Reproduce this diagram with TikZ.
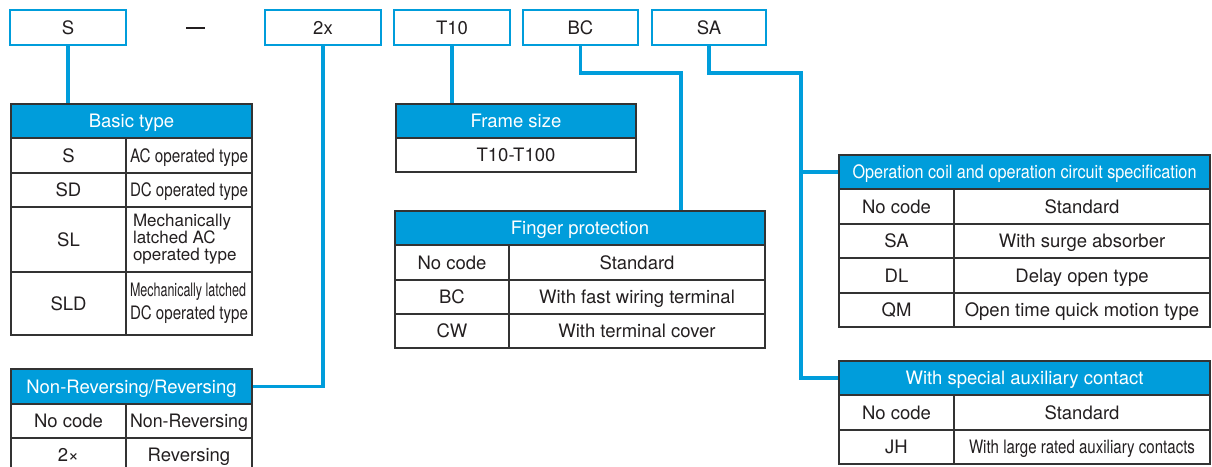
\documentclass[tikz,border=0pt]{standalone}
\usepackage{fontspec}
\setmainfont{TeX Gyre Heros}
\usepackage{graphicx}
\definecolor{hblue}{RGB}{0,157,219}
\definecolor{tline}{RGB}{51,51,51}
\definecolor{ink}{RGB}{35,31,32}
\newcommand\cnd[2]{\resizebox{#1pt}{\height}{#2}}
\newcommand\tcell[7]{\node[#2, minimum width={(#5)-(#3)}, minimum height={(#6)-(#4)}] (#1) at ({((#3)+(#5))/2},{((#4)+(#6))/2}) {#7};}
\tikzset{
  base/.style={font=\fontsize{18.5}{20}\selectfont, text=ink, inner sep=0pt, rectangle, text height=13.3pt, text depth=0pt},
  free/.style={text height=, text depth=},
  topbox/.style={base, draw=hblue, line width=2.5pt, fill=white},
  cell/.style={base, draw=tline, line width=1.1pt},
  hcell/.style={base, draw=tline, line width=1.1pt, fill=hblue, text=white},
  conn/.style={draw=hblue, line width=3.2pt, line join=miter}
}
\begin{document}
\begin{tikzpicture}[x=1pt,y=-1pt]
\useasboundingbox (0,0) rectangle (1212,466);
% top code boxes
\tcell{tS}{topbox}{10}{10}{126}{45}{S}
\node[base, text height=, text depth=] (dash) at (195.5,28) {\rule{19pt}{2pt}};
\tcell{t2x}{topbox}{265}{10}{381}{45}{2x}
\tcell{tT}{topbox}{394}{10}{510}{45}{T10}
\tcell{tBC}{topbox}{523}{10}{638}{45}{BC}
\tcell{tSA}{topbox}{652}{10}{766}{45}{SA}
% Basic type
\tcell{bh}{hcell}{11}{104}{252}{138}{Basic type}
\tcell{b1l}{cell}{11}{138}{126}{173}{S}
\tcell{b1r}{cell}{126}{138}{252}{173}{\makebox[118pt][l]{\cnd{118}{AC operated type}}}
\tcell{b2l}{cell}{11}{173}{126}{207}{SD}
\tcell{b2r}{cell}{126}{173}{252}{207}{\makebox[118pt][l]{\cnd{118}{DC operated type}}}
\tcell{b3l}{cell}{11}{207}{126}{272}{SL}
\tcell{b3r}{cell, free}{126}{207}{252}{272}{\parbox{112pt}{\fontsize{17}{17}\selectfont Mechanically\\latched AC\\operated type}}
\tcell{b4l}{cell}{11}{272}{126}{335}{SLD}
\tcell{b4r}{cell, free}{126}{272}{252}{335}{\parbox{118pt}{\fontsize{18.5}{23}\selectfont\cnd{116}{Mechanically latched}\\\cnd{118}{DC operated type}}}
% Non-Reversing / Reversing
\tcell{nh}{hcell}{11}{369}{252}{404}{Non-Reversing/Reversing}
\tcell{n1l}{cell}{11}{404}{126}{438}{No code}
\tcell{n1r}{cell}{126}{404}{252}{438}{\cnd{118}{Non-Reversing}}
\tcell{n2l}{cell}{11}{438}{126}{472}{2×}
\tcell{n2r}{cell}{126}{438}{252}{472}{Reversing}
% Frame size
\tcell{fh}{hcell}{396}{104}{636}{138}{Frame size}
\tcell{f1}{cell}{396}{138}{636}{172}{T10-T100}
% Finger protection
\tcell{ph}{hcell}{395}{211}{765}{245}{Finger protection}
\tcell{p1l}{cell}{395}{245}{509}{280}{No code}
\tcell{p1r}{cell}{509}{245}{765}{280}{Standard}
\tcell{p2l}{cell}{395}{280}{509}{314}{BC}
\tcell{p2r}{cell}{509}{280}{765}{314}{With fast wiring terminal}
\tcell{p3l}{cell}{395}{314}{509}{348}{CW}
\tcell{p3r}{cell}{509}{314}{765}{348}{With terminal cover}
% Operation coil
\tcell{oh}{hcell}{839}{155}{1210}{189}{\cnd{344}{Operation coil and operation circuit specification}}
\tcell{o1l}{cell}{839}{189}{954}{224}{No code}
\tcell{o1r}{cell}{954}{189}{1210}{224}{Standard}
\tcell{o2l}{cell}{839}{224}{954}{258}{SA}
\tcell{o2r}{cell}{954}{224}{1210}{258}{With surge absorber}
\tcell{o3l}{cell}{839}{258}{954}{293}{DL}
\tcell{o3r}{cell}{954}{258}{1210}{293}{Delay open type}
\tcell{o4l}{cell}{839}{293}{954}{327}{QM}
\tcell{o4r}{cell}{954}{293}{1210}{327}{Open time quick motion type}
% Special auxiliary contact
\tcell{ah}{hcell}{839}{361}{1210}{395}{With special auxiliary contact}
\tcell{a1l}{cell}{839}{395}{954}{430}{No code}
\tcell{a1r}{cell}{954}{395}{1210}{430}{Standard}
\tcell{a2l}{cell}{839}{430}{954}{464}{JH}
\tcell{a2r}{cell}{954}{430}{1210}{464}{\cnd{226}{With large rated auxiliary contacts}}
% connectors
\coordinate (bcb) at (681,73);
\coordinate (sab) at (801,73);
\draw[conn] (tS.south) -- (tS.south |- bh.north);
\draw[conn] (t2x.south) |- (nh.east);
\draw[conn] (tT.south) -- (tT.south |- fh.north);
\draw[conn] (tBC.south) |- (bcb) -- (bcb |- ph.north);
\draw[conn] (tSA.south) |- (sab) |- (ah.west);
\draw[conn] (sab |- oh.west) -- (oh.west);
\end{tikzpicture}
\end{document}
